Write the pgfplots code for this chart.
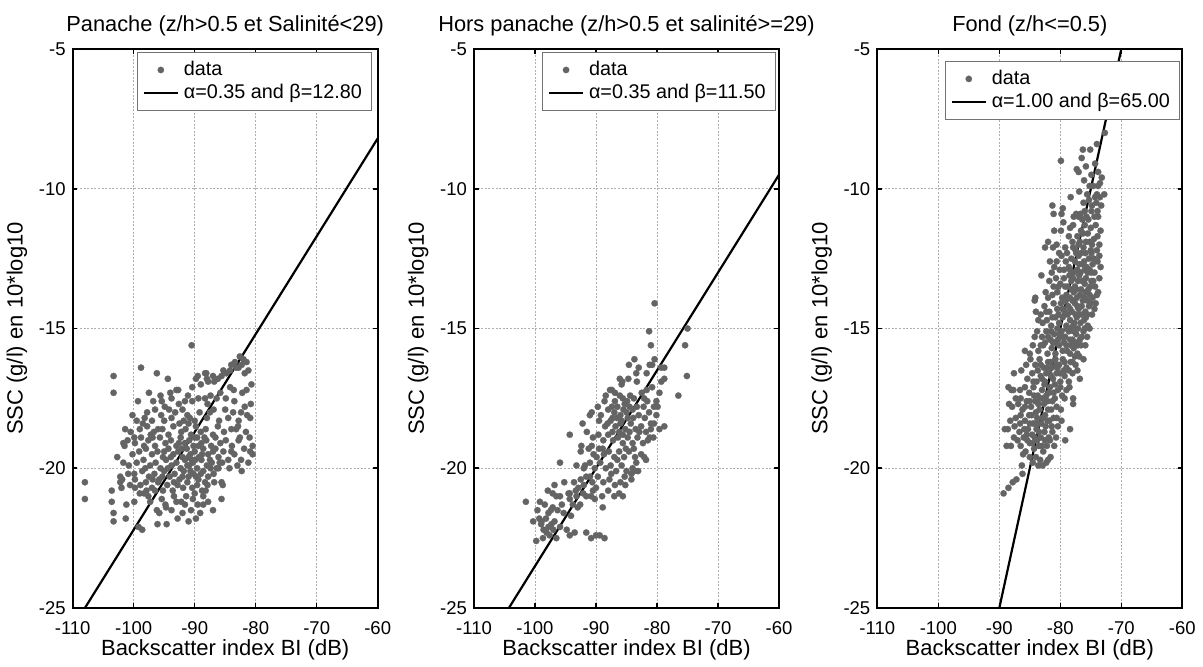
\documentclass[border=0pt]{standalone}
\usepackage{pgfplots}
\pgfplotsset{compat=1.18}
\usepackage{fontspec}
\setmainfont{Liberation Sans}
\definecolor{ptgray}{RGB}{100,100,100}
\definecolor{gridgray}{RGB}{175,175,175}
\pgfplotsset{
  panel/.style={
    scale only axis, width=152.5pt, height=279.5pt, anchor=south west,
    xmin=-110, xmax=-60, ymin=-25, ymax=-5,
    xtick={-110,-100,-90,-80,-70,-60},
    xticklabels={-110,-100,-90,-80,-70,-60},
    ytick={-25,-20,-15,-10,-5},
    yticklabels={-25,-20,-15,-10,-5},
    tick align=inside, major tick length=2.3pt,
    major tick style={black, line width=0.8pt},
    axis line style={line width=0.9pt},
    grid=major,
    major grid style={gridgray, line width=0.45pt, dash pattern=on 1pt off 0.8pt},
    tick label style={font=\fontsize{9.25}{11}\selectfont},
    xticklabel style={anchor=base, yshift=-13pt},
    xlabel={Backscatter index BI (dB)},
    ylabel={SSC (g/l) en 10*log10},
    every axis x label/.style={at={(axis description cs:0.5,0)}, anchor=base, yshift=-23.5pt, font=\fontsize{11}{13}\selectfont},
    every axis y label/.style={at={(axis description cs:0,0.5)}, rotate=90, anchor=center, yshift=27.85pt, font=\fontsize{11}{13}\selectfont},
    every axis title/.style={at={(axis description cs:0.5,1)}, anchor=base, yshift=9pt, font=\fontsize{10.9}{13}\selectfont},
    legend style={font=\fontsize{9.9}{12}\selectfont, draw=black!55, line width=0.5pt, fill=white, anchor=north east, inner xsep=2.5pt, inner ysep=3pt, row sep=0pt, nodes={inner xsep=2.4pt, inner ysep=1.5pt}},
    legend cell align=left,
  },
  datastyle/.style={only marks, mark=*, mark size=1.6pt, mark options={fill=ptgray, draw=ptgray, line width=0.1pt}, color=ptgray},
  fitstyle/.style={black, line width=1.1pt, no marks},
}
\begin{document}
\begin{tikzpicture}
\path[use as bounding box] (0,0) rectangle (601.5pt,333pt);
% ---------------- Panel 1 ----------------
\begin{axis}[panel, at={(36.35pt,29pt)}, title={Panache (z/h>0.5 et Salinité<29)},
  legend style={at={(0.982,0.995)}},
  legend entries={data, α=0.35 and β=12.80}]
\addplot[datastyle] coordinates {
(-108.0,-20.5) (-108.0,-21.1) (-103.3,-16.7) (-103.3,-17.3) (-98.8,-16.4) (-96.2,-16.6) (-94.4,-16.8) (-90.5,-15.6)
(-103.6,-21.2) (-103.3,-21.6) (-103.3,-21.9) (-101.3,-21.8) (-99.2,-22.1) (-98.6,-22.2) (-94.6,-22.0) (-91.0,-21.9) (-89.1,-21.6) (-88.6,-21.3) (-85.6,-21.1) (-85.6,-20.5) (-85.4,-20.6) (-82.3,-20.1) (-80.5,-19.5) (-80.5,-19.2) (-81.4,-18.1) (-80.7,-17.0) (-81.5,-16.2) (-82.6,-16.0) (-82.0,-16.1) (-84.2,-16.5) (-85.3,-16.5) (-88.3,-16.6) (-87.8,-16.9) (-89.8,-16.8) (-93.0,-17.2)
(-101.4,-18.6) (-101.7,-19.1) (-101.5,-19.2) (-101.7,-19.8) (-102.2,-20.3) (-101.9,-20.4) (-102.2,-20.5) (-103.6,-20.8) (-102.0,-20.7) (-99.8,-20.4) (-99.8,-20.7) (-99.0,-20.9) (-97.9,-20.8) (-98.0,-20.5) (-97.3,-21.2) (-96.2,-21.5) (-95.8,-21.6) (-94.8,-21.3) (-94.7,-21.4) (-99.9,-21.2) (-101.2,-21.3)
(-97.5,-17.3) (-96.8,-17.6) (-95.6,-17.4) (-94.9,-17.8) (-93.8,-17.5) (-92.7,-17.2) (-91.1,-17.4) (-90.4,-17.1) (-89.0,-17.0) (-88.1,-16.6) (-87.0,-16.7) (-86.2,-16.8) (-89.5,-16.7) (-86.4,-17.5) (-87.4,-17.4) (-88.3,-17.5) (-84.9,-17.5) (-84.2,-17.1) (-83.6,-17.2) (-82.2,-17.3) (-81.5,-17.2) (-83.2,-16.4) (-82.3,-16.3) (-81.2,-16.5) (-84.8,-16.6) (-85.6,-16.7) (-86.8,-16.9) (-88.0,-16.8) (-92.0,-17.9) (-93.2,-18.0) (-95.5,-18.1) (-96.5,-17.9) (-97.8,-18.0) (-98.5,-18.4) (-96.0,-18.6) (-97.2,-18.8)
(-99.5,-18.3) (-98.2,-18.2) (-95.0,-18.3) (-93.8,-18.2) (-92.5,-18.4) (-91.2,-18.1) (-90.0,-18.3) (-89.2,-18.0) (-88.0,-18.2) (-87.5,-18.0) (-86.0,-18.3) (-85.0,-17.9) (-83.7,-18.0) (-82.8,-18.3) (-81.8,-17.8)
(-100.5,-18.7) (-99.0,-18.6) (-97.8,-18.5) (-96.7,-18.7) (-95.3,-18.6) (-94.3,-18.8) (-93.5,-18.5) (-92.2,-18.7) (-91.5,-18.6) (-90.6,-18.8) (-89.8,-18.5) (-89.0,-18.7) (-88.2,-18.6) (-87.0,-18.8) (-86.2,-18.5) (-85.2,-18.7) (-84.0,-18.6) (-82.9,-18.5) (-81.6,-18.7) (-81.0,-18.9)
(-101.0,-19.0) (-99.8,-19.1) (-98.8,-18.9) (-97.6,-19.0) (-96.5,-19.2) (-95.7,-18.9) (-94.8,-19.1) (-93.9,-19.0) (-93.0,-19.2) (-92.3,-18.9) (-91.6,-19.1) (-90.9,-19.0) (-90.2,-19.2) (-89.6,-18.9) (-88.9,-19.1) (-88.1,-19.0) (-87.3,-19.2) (-86.6,-18.9) (-85.8,-19.1) (-84.9,-19.0) (-83.9,-19.2) (-82.8,-19.0) (-81.9,-19.3) (-80.9,-19.4)
(-100.2,-19.5) (-99.1,-19.4) (-98.0,-19.3) (-97.0,-19.5) (-96.1,-19.4) (-95.2,-19.6) (-94.3,-19.3) (-93.5,-19.5) (-92.7,-19.4) (-92.0,-19.6) (-91.3,-19.3) (-90.7,-19.5) (-90.0,-19.4) (-89.3,-19.6) (-88.6,-19.3) (-87.8,-19.5) (-87.0,-19.4) (-86.1,-19.6) (-85.3,-19.4) (-84.5,-19.7) (-83.5,-19.5) (-82.4,-19.7)
(-100.8,-19.9) (-99.5,-19.8) (-98.4,-19.7) (-97.3,-19.9) (-96.4,-19.8) (-95.6,-20.0) (-94.7,-19.7) (-93.8,-19.9) (-93.0,-19.8) (-92.3,-20.0) (-91.6,-19.7) (-90.9,-19.9) (-90.3,-19.8) (-89.6,-20.0) (-88.9,-19.7) (-88.0,-19.9) (-87.2,-19.8) (-86.4,-20.0) (-85.5,-19.8) (-84.3,-20.0)
(-99.9,-20.2) (-98.6,-20.1) (-97.5,-20.3) (-96.6,-20.2) (-95.8,-20.4) (-95.0,-20.1) (-94.1,-20.3) (-93.3,-20.2) (-92.5,-20.4) (-91.8,-20.1) (-91.0,-20.3) (-90.2,-20.2) (-89.4,-20.4) (-88.6,-20.1) (-87.8,-20.3) (-86.9,-20.2) (-86.1,-20.0)
(-100.6,-20.6) (-98.9,-20.6) (-97.0,-20.7) (-96.0,-20.5) (-94.5,-20.6) (-93.6,-20.8) (-92.8,-20.6) (-91.9,-20.7) (-91.2,-20.5) (-90.4,-20.7) (-89.6,-20.6) (-88.8,-20.8) (-87.9,-20.6) (-86.8,-20.5)
(-97.6,-21.0) (-95.4,-21.1) (-93.4,-21.0) (-92.2,-21.2) (-91.4,-21.0) (-90.3,-21.1) (-89.5,-21.3) (-88.6,-21.0) (-87.8,-21.2)
(-93.8,-21.5) (-92.0,-21.6) (-90.6,-21.5) (-89.8,-21.8)
(-91.0,-18.4) (-90.0,-18.9) (-89.4,-19.2) (-90.5,-19.7) (-91.2,-19.9) (-89.0,-20.2) (-90.8,-18.2) (-88.4,-18.9) (-92.6,-19.1) (-91.8,-18.3)
(-84.0,-16.3) (-83.4,-16.2) (-82.8,-16.4) (-81.8,-16.6) (-83.5,-17.6) (-80.8,-17.7) (-82.6,-18.9) (-81.2,-19.8)
(-95.4,-17.6) (-94.2,-17.9) (-92.6,-17.7) (-91.6,-17.6) (-90.4,-17.6) (-89.4,-17.5) (-87.9,-17.7) (-86.9,-17.9) (-85.8,-17.3) (-84.5,-18.2) (-83.2,-18.6) (-82.4,-18.0) (-80.9,-18.2)
(-99.9,-18.9) (-98.3,-19.2) (-96.9,-18.9) (-95.0,-19.4) (-93.9,-19.6) (-92.1,-19.3) (-91.0,-19.6) (-89.9,-19.7) (-88.8,-19.5) (-87.5,-19.7) (-86.6,-19.3) (-85.9,-19.8) (-84.0,-19.4) (-83.0,-19.9)
(-98.1,-20.0) (-96.9,-20.4) (-95.3,-20.3) (-94.4,-20.0) (-93.4,-20.5) (-92.0,-20.3) (-90.7,-20.1) (-89.8,-20.3) (-88.3,-20.5) (-87.4,-20.0)
(-98.3,-20.9) (-96.5,-20.8) (-95.2,-20.8) (-93.0,-21.2) (-91.6,-21.3) (-90.0,-20.9) (-88.2,-20.8)
(-97.0,-18.3) (-94.0,-17.3) (-99.3,-17.6) (-100.2,-18.1) (-102.7,-19.6) (-100.9,-20.2) (-96.1,-22.0) (-92.8,-21.8) (-87.0,-21.5)
};
\addplot[fitstyle] coordinates {(-110,-25.7) (-60,-8.2)};
\end{axis}
% ---------------- Panel 2 ----------------
\begin{axis}[panel, at={(237pt,29pt)}, title={Hors panache (z/h>0.5 et salinité>=29)},
  legend style={at={(0.99,0.995)}},
  legend entries={data, α=0.35 and β=11.50}]
\addplot[datastyle] coordinates {
(-101.5,-21.2) (-99.6,-21.5) (-99.8,-22.6) (-98.4,-21.3) (-98.9,-21.9) (-97.8,-21.6) (-97.4,-21.5) (-97.1,-21.4) (-98.6,-22.2) (-98.1,-22.3) (-97.6,-22.4) (-97.8,-22.1) (-97.0,-22.2) (-96.5,-22.5) (-95.9,-22.1) (-94.8,-22.2) (-94.3,-22.4) (-93.5,-22.3) (-91.6,-22.3) (-90.8,-22.5) (-90.0,-22.4) (-89.4,-22.4) (-88.6,-22.5) (-88.9,-21.4) (-97.1,-20.9) (-96.5,-21.0) (-95.9,-21.0) (-95.6,-21.3) (-94.5,-20.9) (-94.3,-21.1) (-93.3,-20.8) (-94.1,-21.7) (-92.6,-21.3) (-91.6,-21.0) (-90.8,-21.0) (-90.5,-20.8) (-90.0,-20.7) (-99.0,-22.0) (-98.2,-21.8) (-96.8,-21.9) (-95.3,-21.6) (-93.0,-21.4) (-92.0,-20.6) (-91.0,-20.3) (-95.9,-19.8) (-96.8,-20.6) (-97.9,-20.8) (-99.2,-21.2) (-100.3,-21.9) (-98.7,-22.5)
(-80.4,-14.1) (-81.3,-15.1) (-81.0,-15.6) (-75.0,-15.0) (-75.4,-15.6) (-75.1,-16.7) (-76.5,-17.4) (-78.8,-16.8) (-78.8,-16.4) (-79.6,-17.3) (-79.9,-17.8) (-78.8,-18.5) (-79.6,-18.6) (-80.4,-16.1) (-80.8,-16.3) (-80.8,-17.1) (-83.7,-16.1) (-84.6,-16.3) (-83.0,-16.4) (-83.4,-16.6) (-81.7,-16.6) (-81.2,-16.3) (-86.1,-16.8) (-85.7,-16.9) (-85.8,-17.0) (-87.4,-17.2) (-87.7,-17.2) (-79.3,-16.4) (-79.3,-16.9) (-80.1,-17.6) (-80.5,-17.8) (-81.7,-17.2) (-82.5,-17.3) (-83.3,-16.9) (-84.4,-17.4) (-83.8,-17.5) (-83.3,-17.8) (-82.2,-17.8) (-81.6,-17.6) (-85.6,-17.5) (-86.1,-17.4) (-85.3,-17.7) (-84.5,-17.8) (-86.9,-17.6) (-87.4,-17.8) (-88.0,-17.9) (-88.6,-17.6) (-89.7,-17.8) (-90.7,-18.0) (-91.0,-18.1) (-92.2,-18.4) (-94.3,-18.8) (-92.4,-19.2)
(-87.0,-18.0) (-86.0,-18.1) (-85.0,-18.0) (-84.0,-17.9) (-83.0,-18.1) (-82.0,-18.2) (-81.0,-18.4) (-80.5,-18.4) (-85.5,-17.9) (-84.8,-18.2)
(-89.5,-18.3) (-88.5,-18.5) (-87.6,-18.3) (-86.8,-18.5) (-86.0,-18.4) (-85.2,-18.6) (-84.3,-18.4) (-83.5,-18.6) (-82.6,-18.5) (-81.8,-18.7) (-81.0,-18.6) (-80.6,-18.9)
(-91.5,-18.7) (-90.5,-18.9) (-89.6,-18.8) (-88.8,-19.0) (-88.0,-18.8) (-87.2,-19.0) (-86.4,-18.9) (-85.6,-19.1) (-84.8,-18.9) (-84.0,-19.1) (-83.2,-18.9) (-82.3,-19.1) (-81.5,-19.0)
(-92.5,-19.4) (-91.2,-19.3) (-90.4,-19.5) (-89.5,-19.3) (-88.7,-19.5) (-87.9,-19.4) (-87.0,-19.6) (-86.2,-19.4) (-85.4,-19.6) (-84.6,-19.4) (-83.6,-19.6) (-82.6,-19.5)
(-93.2,-19.9) (-92.0,-20.0) (-91.0,-19.8) (-90.2,-20.0) (-89.3,-19.8) (-88.4,-20.0) (-87.6,-19.9) (-86.7,-20.1) (-85.8,-19.9) (-85.0,-20.1) (-84.0,-20.0) (-83.1,-20.1)
(-93.6,-20.5) (-92.5,-20.4) (-91.6,-20.3) (-90.6,-20.5) (-89.7,-20.3) (-88.8,-20.5) (-87.8,-20.4) (-86.9,-20.6) (-86.0,-20.5) (-85.2,-20.6) (-84.2,-20.4)
(-94.3,-20.9) (-93.2,-21.0) (-92.1,-20.9) (-90.2,-21.1) (-89.0,-21.0) (-88.0,-20.8) (-87.0,-21.0) (-86.2,-20.9) (-85.6,-21.0)
(-86.5,-17.8) (-85.8,-18.3) (-86.2,-18.7) (-87.3,-18.2) (-84.5,-18.7) (-85.1,-19.3) (-83.8,-19.3) (-84.2,-20.2) (-82.1,-19.6) (-81.8,-19.7) (-83.7,-20.1)
(-88.1,-18.4) (-87.3,-18.7) (-86.6,-18.2) (-85.6,-18.8) (-84.9,-17.6) (-83.9,-18.2) (-82.9,-18.7) (-82.1,-17.5) (-81.3,-18.0) (-86.5,-19.7) (-87.5,-20.2) (-88.9,-19.3) (-89.9,-19.6) (-91.8,-19.9) (-92.9,-20.7) (-93.8,-21.3) (-95.2,-20.5) (-96.3,-21.5) (-97.3,-22.0) (-99.3,-21.8) (-90.7,-19.2) (-89.2,-18.1) (-85.3,-20.3) (-83.4,-19.8) (-81.2,-18.9) (-80.1,-18.1) (-84.7,-16.8) (-86.9,-17.3) (-88.4,-17.4)
};
\addplot[fitstyle] coordinates {(-110,-27.0) (-60,-9.5)};
\end{axis}
% ---------------- Panel 3 ----------------
\begin{axis}[panel, at={(438.65pt,29pt)}, title={Fond (z/h<=0.5)},
  legend style={at={(0.993,0.979)}},
  legend entries={data, α=1.00 and β=65.00}]
\addplot[datastyle] coordinates {
(-72.7,-8.0) (-74.0,-8.4) (-75.1,-8.6) (-76.3,-8.6) (-76.5,-8.9) (-79.9,-9.0) (-77.3,-9.3) (-77.0,-9.4) (-74.9,-9.5) (-73.8,-9.4) (-73.5,-9.8) (-73.8,-9.9) (-74.6,-9.9) (-75.2,-9.9) (-72.8,-10.2) (-74.0,-10.2) (-74.3,-10.3) (-76.9,-10.1) (-73.2,-9.6)
(-81.3,-10.6) (-79.6,-10.7) (-79.8,-10.9) (-81.1,-10.9) (-76.0,-10.8) (-75.7,-11.0) (-74.9,-10.8) (-74.4,-11.0) (-73.8,-11.0) (-73.3,-10.6) (-74.1,-10.5) (-75.3,-10.4) (-76.2,-10.5) (-77.4,-10.9) (-73.5,-10.3)
(-79.5,-11.2) (-81.0,-11.5) (-79.9,-11.5) (-78.4,-11.4) (-77.9,-11.3) (-77.2,-11.7) (-76.6,-11.5) (-76.0,-11.3) (-75.5,-11.6) (-75.0,-11.4) (-74.5,-11.8) (-73.9,-11.7) (-73.4,-11.5) (-76.8,-11.9) (-75.8,-11.9) (-74.8,-12.0) (-82.0,-11.9) (-81.2,-12.1) (-80.6,-12.0) (-82.5,-12.1) (-78.0,-11.9) (-77.5,-12.2)
(-79.8,-12.4) (-78.9,-12.3) (-78.2,-12.5) (-77.6,-12.6) (-77.0,-12.4) (-76.4,-12.7) (-75.9,-12.3) (-75.3,-12.5) (-74.7,-12.7) (-73.6,-12.4) (-74.0,-12.2) (-73.4,-12.8) (-81.7,-12.6) (-81.0,-12.8) (-80.6,-12.6) (-79.4,-12.9) (-78.6,-12.8) (-77.8,-13.0) (-77.2,-12.9) (-76.7,-13.0) (-76.0,-12.9) (-75.5,-13.0) (-74.9,-13.0) (-76.2,-12.1) (-77.9,-12.1)
(-83.1,-13.1) (-81.8,-13.3) (-80.7,-13.2) (-80.0,-13.4) (-79.4,-13.2) (-78.8,-13.5) (-78.2,-13.3) (-77.6,-13.5) (-77.1,-13.3) (-76.6,-13.6) (-76.0,-13.4) (-75.4,-13.6) (-74.9,-13.3) (-74.3,-13.5) (-82.4,-13.7) (-81.3,-13.8) (-80.5,-13.7) (-79.7,-13.9) (-79.0,-13.8) (-78.4,-13.9) (-77.8,-13.7) (-77.3,-13.9) (-76.8,-13.8) (-76.1,-13.9) (-75.6,-14.0) (-74.7,-13.9) (-73.8,-13.7) (-84.1,-13.9)
(-84.2,-14.0) (-84.0,-14.4) (-83.6,-14.7) (-82.6,-14.2) (-81.8,-14.4) (-81.1,-14.1) (-80.5,-14.3) (-79.9,-14.1) (-79.3,-14.4) (-78.7,-14.2) (-78.1,-14.4) (-77.6,-14.1) (-77.0,-14.3) (-76.5,-14.2) (-75.9,-14.4) (-75.3,-14.2) (-74.8,-14.5) (-82.9,-14.8) (-82.2,-14.7) (-81.5,-14.9) (-80.8,-14.6) (-80.2,-14.8) (-79.6,-14.6) (-79.0,-14.9) (-78.4,-14.7) (-77.9,-14.9) (-77.3,-14.6) (-76.7,-14.8) (-76.1,-14.7) (-75.5,-14.9) (-78.8,-14.5) (-77.5,-14.5)
(-83.8,-15.1) (-83.0,-15.3) (-82.3,-15.1) (-81.6,-15.4) (-81.0,-15.2) (-80.4,-15.4) (-79.8,-15.1) (-79.2,-15.3) (-78.6,-15.1) (-78.0,-15.4) (-77.4,-15.2) (-76.8,-15.4) (-76.2,-15.1) (-75.6,-15.3) (-85.8,-15.8) (-84.5,-15.6) (-83.6,-15.8) (-82.8,-15.6) (-82.1,-15.9) (-81.4,-15.7) (-80.8,-15.9) (-80.2,-15.6) (-79.6,-15.8) (-79.0,-15.6) (-78.4,-15.9) (-77.8,-15.7) (-77.2,-15.9) (-76.6,-15.6) (-80.5,-15.0) (-79.4,-15.5)
(-87.6,-16.6) (-84.9,-16.1) (-84.1,-16.3) (-83.4,-16.1) (-82.7,-16.4) (-82.0,-16.2) (-81.4,-16.4) (-80.8,-16.1) (-80.2,-16.3) (-79.6,-16.1) (-79.0,-16.4) (-78.3,-16.2) (-77.5,-16.3) (-76.8,-16.8) (-85.4,-16.8) (-84.6,-16.6) (-83.9,-16.9) (-83.2,-16.7) (-82.5,-16.9) (-81.8,-16.6) (-81.2,-16.8) (-80.6,-16.6) (-80.0,-16.9) (-79.3,-16.7) (-78.6,-16.9) (-78.0,-16.6)
(-88.5,-17.1) (-88.0,-17.2) (-87.7,-17.2) (-86.6,-17.2) (-85.8,-17.1) (-85.1,-17.3) (-84.4,-17.1) (-83.7,-17.4) (-83.0,-17.2) (-82.3,-17.4) (-81.7,-17.1) (-81.1,-17.3) (-80.4,-17.2) (-79.7,-17.4) (-79.0,-17.2) (-88.4,-17.7) (-87.9,-17.8) (-86.9,-17.7) (-86.2,-17.9) (-85.5,-17.6) (-84.8,-17.8) (-84.1,-17.6) (-83.4,-17.9) (-82.7,-17.7) (-82.0,-17.9) (-81.3,-17.6) (-80.6,-17.8) (-77.9,-17.7) (-77.9,-17.5) (-79.9,-17.9)
(-89.1,-18.6) (-88.6,-18.6) (-87.3,-18.2) (-86.5,-18.1) (-85.8,-18.3) (-85.1,-18.1) (-84.5,-18.4) (-83.8,-18.2) (-83.1,-18.4) (-82.5,-18.1) (-81.8,-18.3) (-81.1,-18.2) (-80.4,-18.5) (-78.4,-18.6) (-87.6,-18.9) (-86.7,-18.7) (-86.0,-18.9) (-85.3,-18.6) (-84.6,-18.8) (-83.9,-18.6) (-83.2,-18.9) (-82.6,-18.7) (-81.9,-18.9) (-81.3,-18.7) (-80.7,-18.9) (-79.2,-19.0)
(-88.8,-19.2) (-86.5,-19.2) (-85.7,-19.4) (-85.0,-19.1) (-84.3,-19.3) (-83.5,-19.2) (-82.8,-19.4) (-82.2,-19.2) (-81.6,-19.6) (-82.0,-19.7) (-83.3,-19.7) (-84.0,-19.6) (-86.3,-19.9) (-86.2,-20.2) (-87.2,-20.4) (-87.8,-20.5) (-88.5,-20.7) (-89.3,-20.9) (-82.9,-19.9)
(-78.5,-13.1) (-77.9,-13.2) (-76.9,-13.1) (-75.8,-13.2) (-78.0,-14.0) (-76.3,-14.0) (-79.1,-14.0) (-77.7,-14.8) (-76.9,-14.5) (-78.3,-15.0) (-77.1,-15.0) (-76.0,-15.0) (-79.0,-15.0) (-78.2,-15.6) (-77.6,-15.5) (-76.9,-16.0) (-77.6,-16.0) (-78.9,-15.8) (-79.4,-16.5) (-80.5,-16.4) (-81.6,-16.2) (-82.3,-16.6) (-80.9,-17.0) (-81.9,-17.3) (-82.6,-17.0) (-83.3,-17.5) (-84.0,-18.0) (-84.7,-18.1) (-82.4,-18.5) (-83.5,-18.4) (-84.2,-18.9) (-85.5,-18.8) (-85.0,-19.6) (-80.9,-15.5) (-81.5,-15.1) (-82.5,-15.5) (-83.2,-16.3) (-75.0,-12.2) (-75.7,-12.8) (-76.6,-12.3) (-74.4,-13.0) (-75.2,-13.8) (-75.8,-14.6) (-74.2,-14.1) (-76.4,-11.1) (-75.4,-11.1) (-74.9,-12.3) (-73.6,-13.2) (-77.0,-11.0)
(-74.3,-9.1) (-75.8,-9.2) (-76.1,-9.7) (-75.6,-10.2) (-74.8,-10.6) (-73.9,-10.8) (-76.7,-10.9) (-78.3,-10.3) (-77.8,-11.0)
(-75.2,-11.9) (-76.3,-11.6) (-77.0,-12.0) (-78.6,-11.7) (-79.2,-12.1) (-74.2,-11.3) (-73.6,-12.0) (-80.2,-12.3)
(-74.5,-12.5) (-75.2,-12.9) (-76.1,-12.6) (-76.9,-12.7) (-77.4,-12.3) (-78.4,-12.9) (-79.1,-12.6) (-80.1,-12.9) (-81.4,-13.0) (-73.9,-12.6)
(-74.6,-13.3) (-75.1,-13.5) (-75.9,-13.7) (-76.4,-13.3) (-77.4,-13.6) (-78.1,-13.6) (-79.2,-13.5) (-80.3,-13.5) (-81.1,-13.5) (-82.0,-13.9) (-74.0,-13.8)
(-74.4,-14.3) (-75.0,-14.1) (-75.6,-14.5) (-76.4,-14.5) (-77.2,-14.2) (-78.4,-14.3) (-79.6,-14.3) (-80.3,-14.5) (-81.3,-14.6) (-82.3,-14.4) (-83.2,-14.5)
(-75.2,-15.0) (-75.9,-15.6) (-76.5,-15.3) (-77.1,-15.6) (-77.8,-15.1) (-78.4,-15.4) (-79.6,-15.3) (-80.1,-15.2) (-81.2,-15.5) (-82.0,-15.3) (-83.2,-15.6) (-84.2,-15.3) (-85.0,-15.9)
(-76.2,-16.1) (-77.2,-16.5) (-78.0,-16.2) (-78.6,-16.5) (-79.3,-16.2) (-80.1,-16.6) (-80.6,-16.3) (-81.5,-16.7) (-82.2,-16.4) (-83.0,-16.8) (-83.7,-16.5) (-84.4,-16.9) (-85.6,-16.3) (-86.4,-16.5)
(-78.5,-17.1) (-79.3,-17.5) (-80.0,-17.1) (-80.9,-17.5) (-81.5,-17.9) (-82.1,-17.6) (-82.9,-17.5) (-83.6,-17.7) (-84.3,-17.4) (-85.0,-17.6) (-85.8,-17.8) (-86.5,-17.5) (-87.3,-17.5)
(-79.8,-18.3) (-80.6,-18.2) (-81.4,-18.5) (-82.1,-18.3) (-82.9,-18.2) (-83.5,-18.7) (-84.2,-18.4) (-85.0,-18.4) (-85.9,-18.6) (-86.6,-18.4) (-87.5,-18.5) (-88.2,-18.3)
(-81.0,-19.2) (-81.7,-19.0) (-82.5,-19.0) (-83.0,-19.2) (-83.8,-19.0) (-84.6,-19.1) (-85.4,-19.0) (-86.1,-19.5) (-87.0,-19.0) (-88.1,-19.2) (-84.5,-19.8) (-83.6,-19.9) (-82.3,-19.8)
};
\addplot[fitstyle] coordinates {(-90,-25) (-70,-5)};
\end{axis}
\end{tikzpicture}
\end{document}
